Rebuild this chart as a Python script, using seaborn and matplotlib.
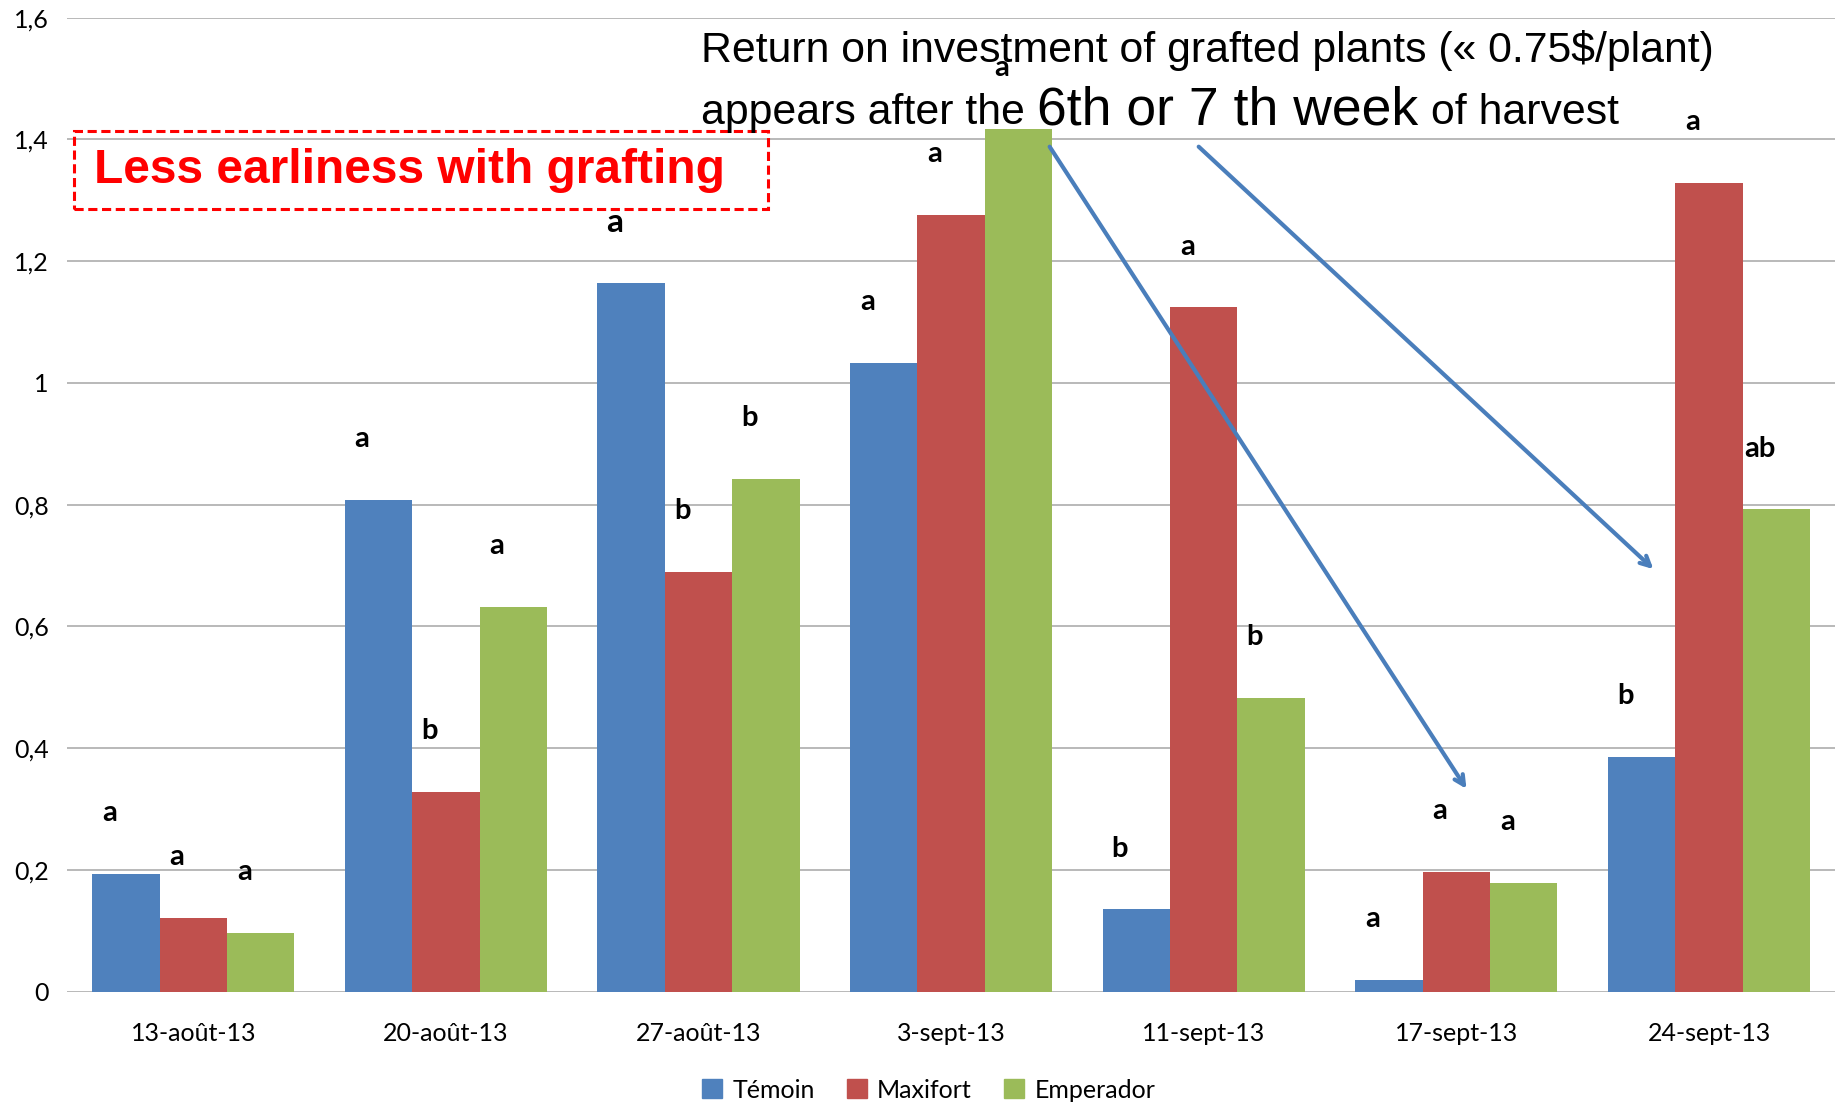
import pandas as pd
import seaborn as sns
import matplotlib.pyplot as plt
from matplotlib.ticker import FuncFormatter
from matplotlib.patches import Rectangle, Patch

dates = ['13-août-13', '20-août-13', '27-août-13', '3-sept-13',
         '11-sept-13', '17-sept-13', '24-sept-13']
varieties = ['Témoin', 'Maxifort', 'Emperador']
temoin = [0.193, 0.808, 1.164, 1.033, 0.135, 0.019, 0.386]
maxifort = [0.121, 0.328, 0.690, 1.276, 1.124, 0.197, 1.328]
emperador = [0.096, 0.632, 0.842, 1.417, 0.482, 0.179, 0.792]
letters_temoin = ['a', 'a', 'a', 'a', 'b', 'a', 'b']
letters_maxifort = ['a', 'b', 'b', 'a', 'a', 'a', 'a']
letters_emperador = ['a', 'a', 'b', 'a', 'b', 'a', 'ab']
colors = ['#4F81BD', '#C0504D', '#9BBB59']

df = pd.DataFrame({
    'date': dates * 3,
    'variety': [v for v in varieties for _ in dates],
    'value': temoin + maxifort + emperador,
})

sns.set_style('white')
plt.rcParams['font.family'] = ['Lato', 'DejaVu Sans']
plt.rcParams['text.color'] = 'black'
plt.rcParams['xtick.color'] = 'black'
plt.rcParams['ytick.color'] = 'black'

fig = plt.figure(figsize=(18.39, 11.03), dpi=100)
ax = fig.add_axes([0.0364, 0.101, 0.9616, 0.883])
sns.barplot(data=df, x='date', y='value', hue='variety', palette=colors,
            saturation=1, width=0.8, linewidth=0, ax=ax, legend=False)

ax.set_ylim(0, 1.6)
ax.set_xlim(-0.5, 6.5)
ax.set_yticks([0, 0.2, 0.4, 0.6, 0.8, 1.0, 1.2, 1.4, 1.6])
ax.yaxis.set_major_formatter(FuncFormatter(lambda v, p: f'{v:g}'.replace('.', ',')))
ax.yaxis.grid(True, color='#a6a6a6', lw=1.1)
ax.set_axisbelow(True)
for s in ax.spines.values():
    s.set_visible(False)
ax.tick_params(axis='both', length=0, labelsize=18)
ax.tick_params(axis='x', pad=22)
ax.tick_params(axis='y', pad=13)
ax.set_xlabel('')
ax.set_ylabel('')

# significance letters (the 27-août Témoin one is a bit larger in the original)
all_letters = [letters_temoin, letters_maxifort, letters_emperador]
for k, (cont, lets) in enumerate(zip(ax.containers, all_letters)):
    for j, (bar, lt) in enumerate(zip(cont, lets)):
        fs = 24 if (k, j) == (0, 2) else 21
        ax.text(bar.get_x() + bar.get_width() / 2 - 0.065, bar.get_height() + 0.1, lt,
                ha='center', va='center', fontsize=fs, fontweight='bold')

# red dashed box
ax.add_patch(Rectangle((0.004, 0.8036), 0.3926, 0.0804, transform=ax.transAxes,
                       fill=False, ec='#FF0000', ls=(0, (3, 1.5)), lw=2.2, clip_on=False))
ax.text(0.0153, 0.843, 'Less earliness with grafting', transform=ax.transAxes,
        color='#FF0000', fontsize=34.5, fontweight='bold', family='Liberation Sans',
        ha='left', va='center')

# arrows
arrow_kw = dict(arrowstyle='->,head_length=0.7,head_width=0.35', color='#4A7EBB',
                lw=3, shrinkA=0, shrinkB=0)
ax.annotate('', xy=(5.04, 0.333), xytext=(3.39, 1.388), arrowprops=arrow_kw)
ax.annotate('', xy=(5.78, 0.694), xytext=(3.98, 1.388), arrowprops=arrow_kw)

# headline text
fig.text(0.3814, 0.9435, 'Return on investment of grafted plants (« 0.75$/plant)',
         fontsize=30.8, family='Liberation Sans', va='baseline', ha='left')
fig.text(0.3814, 0.8872, 'appears after the', fontsize=30.8, family='Liberation Sans',
         va='baseline', ha='left')
fig.text(0.5638, 0.8872, '6th or 7 th week', fontsize=38.5, family='Liberation Sans',
         va='baseline', ha='left')
fig.text(0.778, 0.8872, 'of harvest', fontsize=30.8, family='Liberation Sans',
         va='baseline', ha='left')

handles = [Patch(color=c, label=v) for c, v in zip(colors, varieties)]
fig.legend(handles=handles, loc='center', bbox_to_anchor=(0.505, 0.0117), ncol=3,
           frameon=False, fontsize=18, handlelength=0.8, handleheight=0.8,
           handletextpad=0.4, columnspacing=1.3)

fig.savefig('out.png', dpi=100)
